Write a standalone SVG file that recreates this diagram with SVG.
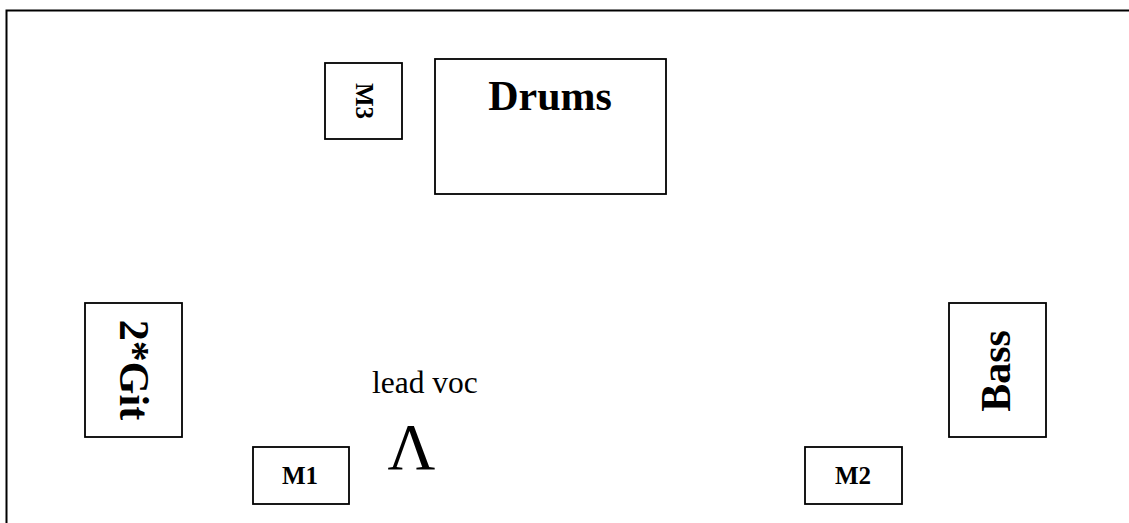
<svg xmlns="http://www.w3.org/2000/svg" width="1129" height="523" viewBox="0 0 1129 523">
<style>
.box{fill:#fff;stroke:#000;stroke-width:1.8}
.frame{fill:none;stroke:#000;stroke-width:2}
.big{font-family:"Liberation Serif","Times New Roman",serif;font-weight:bold;font-size:42px;fill:#000}
.small{font-family:"Liberation Serif","Times New Roman",serif;font-weight:bold;font-size:25px;fill:#000}
.reg{font-family:"Liberation Serif","Times New Roman",serif;font-size:31.5px;fill:#000}
</style>
<rect width="1129" height="523" fill="#fff"/>
<path class="frame" d="M6.5 523 V10.5 H1129"/>
<g id="m3">
<rect class="box" x="325" y="63" width="77" height="76"/>
<text class="small" transform="translate(356,101) rotate(90)" text-anchor="middle">M3</text>
</g>
<g id="drums">
<rect class="box" x="435" y="59" width="231" height="135"/>
<text class="big" x="550" y="110" text-anchor="middle">Drums</text>
</g>
<g id="git">
<rect class="box" x="85" y="303" width="97" height="134"/>
<text class="big" transform="translate(119.5,370) rotate(90)" text-anchor="middle">2*Git</text>
</g>
<g id="bass">
<rect class="box" x="949" y="303" width="97" height="134"/>
<text class="big" transform="translate(1010,371) rotate(-90)" text-anchor="middle">Bass</text>
</g>
<g id="m1">
<rect class="box" x="253" y="447" width="96" height="57"/>
<text class="small" x="300" y="483.5" text-anchor="middle">M1</text>
</g>
<g id="m2">
<rect class="box" x="805" y="447" width="97" height="57"/>
<text class="small" x="853" y="483.5" text-anchor="middle">M2</text>
</g>
<g id="leadvoc">
<text class="reg" x="372" y="393">lead voc</text>
<text class="reg" x="411.5" y="469" text-anchor="middle" style="font-size:66px">Λ</text>
</g>
<g id="connectors"/>
</svg>
